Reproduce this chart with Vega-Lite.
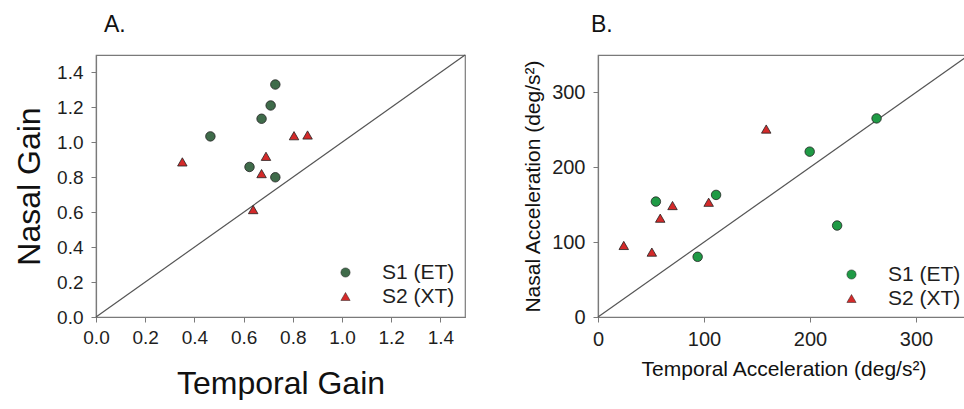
{
  "$schema": "https://vega.github.io/schema/vega-lite/v6.json",
  "background": "white",
  "padding": {"left": 12, "top": 13, "right": 0, "bottom": 0},
  "spacing": 54,
  "config": {
    "font": "Liberation Sans",
    "view": {"stroke": "#7a7a7a", "strokeWidth": 1.2},
    "axis": {
      "grid": false,
      "domainColor": "#7a7a7a",
      "domainWidth": 1.2,
      "tickColor": "#7a7a7a",
      "tickSize": 5,
      "labelColor": "#1e1e1e",
      "titleColor": "#111111",
      "labelFont": "Liberation Sans",
      "titleFont": "Liberation Sans",
      "titleFontWeight": "normal",
      "labelPadding": 7,
      "labelFlush": false,
      "labelOverlap": false
    },
    "legend": {
      "orient": "bottom-right",
      "title": null,
      "labelFont": "Liberation Sans",
      "labelFontSize": 21,
      "labelColor": "#1e1e1e",
      "symbolSize": 85,
      "symbolStrokeWidth": 0.5,
      "labelOffset": 26,
      "rowPadding": 2,
      "padding": 0,
      "offset": 10
    },
    "title": {"font": "Liberation Sans", "fontSize": 23, "fontWeight": "normal", "anchor": "start", "frame": "group", "color": "#111111"}
  },
  "datasets": {
    "gain": [
      {"temporal": 0.465, "nasal": 1.034, "subject": "S1 (ET)"},
      {"temporal": 0.673, "nasal": 1.135, "subject": "S1 (ET)"},
      {"temporal": 0.710, "nasal": 1.211, "subject": "S1 (ET)"},
      {"temporal": 0.729, "nasal": 1.331, "subject": "S1 (ET)"},
      {"temporal": 0.624, "nasal": 0.859, "subject": "S1 (ET)"},
      {"temporal": 0.729, "nasal": 0.800, "subject": "S1 (ET)"},
      {"temporal": 0.351, "nasal": 0.888, "subject": "S2 (XT)"},
      {"temporal": 0.639, "nasal": 0.615, "subject": "S2 (XT)"},
      {"temporal": 0.673, "nasal": 0.821, "subject": "S2 (XT)"},
      {"temporal": 0.691, "nasal": 0.920, "subject": "S2 (XT)"},
      {"temporal": 0.805, "nasal": 1.038, "subject": "S2 (XT)"},
      {"temporal": 0.860, "nasal": 1.042, "subject": "S2 (XT)"}
    ],
    "accel": [
      {"temporal": 54.6, "nasal": 154.2, "subject": "S1 (ET)"},
      {"temporal": 111.4, "nasal": 163.1, "subject": "S1 (ET)"},
      {"temporal": 94.0, "nasal": 80.4, "subject": "S1 (ET)"},
      {"temporal": 199.7, "nasal": 220.9, "subject": "S1 (ET)"},
      {"temporal": 225.6, "nasal": 122.2, "subject": "S1 (ET)"},
      {"temporal": 262.8, "nasal": 265.3, "subject": "S1 (ET)"},
      {"temporal": 24.3, "nasal": 95.6, "subject": "S2 (XT)"},
      {"temporal": 50.8, "nasal": 86.7, "subject": "S2 (XT)"},
      {"temporal": 58.7, "nasal": 132.0, "subject": "S2 (XT)"},
      {"temporal": 70.3, "nasal": 148.9, "subject": "S2 (XT)"},
      {"temporal": 104.4, "nasal": 153.3, "subject": "S2 (XT)"},
      {"temporal": 158.7, "nasal": 251.1, "subject": "S2 (XT)"}
    ],
    "diagA": [{"temporal": 0, "nasal": 0}, {"temporal": 1.5, "nasal": 1.5}],
    "diagB": [{"temporal": 0, "nasal": 0}, {"temporal": 350, "nasal": 350}]
  },
  "resolve": {"scale": {"color": "independent", "shape": "independent"}},
  "hconcat": [
    {
      "width": 369,
      "height": 262,
      "title": {"text": "A.", "dx": 8, "offset": 16},
      "encoding": {
        "x": {
          "field": "temporal", "type": "quantitative",
          "scale": {"domain": [0, 1.5], "nice": false},
          "axis": {"title": "Temporal Gain", "titleFontSize": 32, "labelFontSize": 19, "values": [0, 0.2, 0.4, 0.6, 0.8, 1.0, 1.2, 1.4], "format": ".1f", "titlePadding": 21, "labelPadding": 6, "labelOverlap": false, "labelFlush": false}
        },
        "y": {
          "field": "nasal", "type": "quantitative",
          "scale": {"domain": [0, 1.5], "nice": false},
          "axis": {"title": "Nasal Gain", "titleFontSize": 32, "labelFontSize": 19, "values": [0, 0.2, 0.4, 0.6, 0.8, 1.0, 1.2, 1.4], "format": ".1f", "titlePadding": 10, "labelPadding": 8, "labelOverlap": false, "labelFlush": false}
        }
      },
      "layer": [
        {
          "data": {"name": "diagA"},
          "mark": {"type": "line", "color": "#555555", "strokeWidth": 1.2}
        },
        {
          "data": {"name": "gain"},
          "mark": {"type": "point", "filled": true, "opacity": 1, "stroke": "#222222", "strokeWidth": 0.8, "size": 90},
          "encoding": {
            "color": {
              "field": "subject", "type": "nominal",
              "scale": {"domain": ["S1 (ET)", "S2 (XT)"], "range": ["#3f6b4a", "#d42a2a"]},
              "legend": {"offset": 10}
            },
            "shape": {
              "field": "subject", "type": "nominal",
              "scale": {"domain": ["S1 (ET)", "S2 (XT)"], "range": ["circle", "triangle-up"]}
            }
          }
        }
      ]
    },
    {
      "width": 371,
      "height": 262,
      "title": {"text": "B.", "dx": -7, "offset": 16},
      "encoding": {
        "x": {
          "field": "temporal", "type": "quantitative",
          "scale": {"domain": [0, 350], "nice": false},
          "axis": {"title": "Temporal Acceleration (deg/s²)", "titleFontSize": 21, "labelFontSize": 20, "values": [0, 100, 200, 300], "titlePadding": 9, "labelOverlap": false}
        },
        "y": {
          "field": "nasal", "type": "quantitative",
          "scale": {"domain": [0, 350], "nice": false},
          "axis": {"title": "Nasal Acceleration (deg/s²)", "titleFontSize": 21, "labelFontSize": 20, "values": [0, 100, 200, 300], "titlePadding": 8, "labelPadding": 8, "labelOverlap": false}
        }
      },
      "layer": [
        {
          "data": {"name": "diagB"},
          "mark": {"type": "line", "color": "#555555", "strokeWidth": 1.2}
        },
        {
          "data": {"name": "accel"},
          "mark": {"type": "point", "filled": true, "opacity": 1, "stroke": "#222222", "strokeWidth": 0.8, "size": 90},
          "encoding": {
            "color": {
              "field": "subject", "type": "nominal",
              "scale": {"domain": ["S1 (ET)", "S2 (XT)"], "range": ["#1f9a45", "#d42a2a"]},
              "legend": {"offset": 8}
            },
            "shape": {
              "field": "subject", "type": "nominal",
              "scale": {"domain": ["S1 (ET)", "S2 (XT)"], "range": ["circle", "triangle-up"]}
            }
          }
        }
      ]
    }
  ]
}
